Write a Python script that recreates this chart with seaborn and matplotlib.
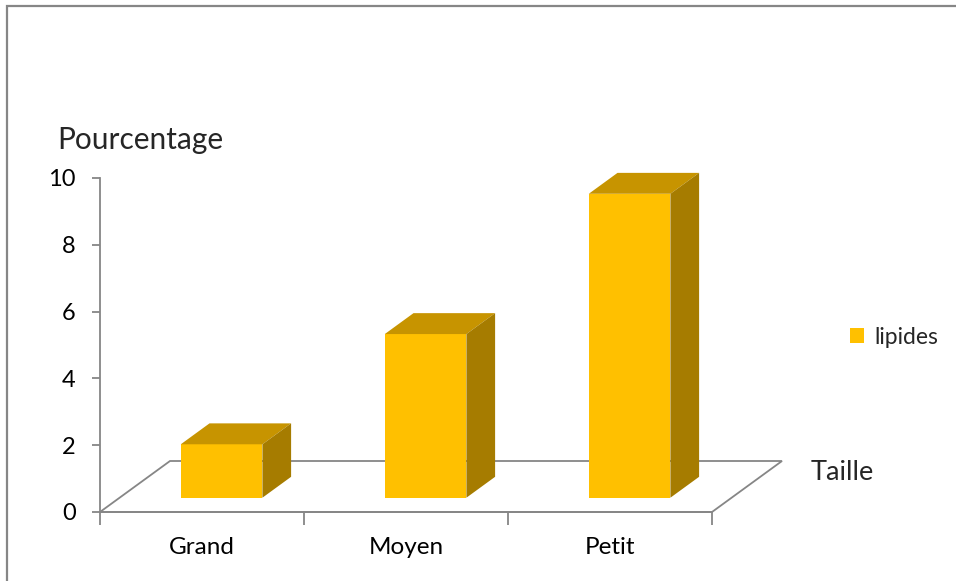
import matplotlib
matplotlib.use("Agg")
import matplotlib.pyplot as plt
from matplotlib.patches import Polygon, Rectangle
import seaborn as sns
import pandas as pd

# ---- data ----
categories = ["Grand", "Moyen", "Petit"]
values = [1.6, 4.9, 9.1]
series_name = "lipides"
yticks = [0, 2, 4, 6, 8, 10]

FRONT = "#FFC000"
TOP = "#C79400"
SIDE = "#A67C00"
GREY = "#868686"

sns.set_theme(style="white")
plt.rcParams["font.family"] = ["Lato", "DejaVu Sans"]

W, H = 956, 581
fig = plt.figure(figsize=(W / 100, H / 100), dpi=100)

# axes frame: x 100..712 px, y 512..178 px
ax = fig.add_axes([100 / W, (H - 512) / H, 612 / W, 334 / H])

df = pd.DataFrame({"Taille": categories, "Pourcentage": values,
                   "serie": [series_name] * len(categories)})
sns.barplot(data=df, x="Taille", y="Pourcentage", hue="serie",
            palette=[FRONT], saturation=1, width=0.40, ax=ax, zorder=3,
            edgecolor="none", linewidth=0)

ax.set_xlim(-0.5, len(categories) - 0.5)
ax.set_ylim(0, 10)

# depth of the floor in data units
DX = 70 / 204.0
DY = 51 / 33.4
F0, F1 = 0.28, 0.69  # bar front/back depth fractions

floor = Polygon([(-0.5, 0), (len(categories) - 0.5, 0),
                 (len(categories) - 0.5 + DX, DY), (-0.5 + DX, DY)],
                closed=True, fill=False, edgecolor=GREY, linewidth=1.3,
                clip_on=False, zorder=1)
ax.add_patch(floor)

bars = [p for p in ax.patches if isinstance(p, Rectangle)]
for p in bars:
    x0 = p.get_x()
    w = p.get_width()
    h = p.get_height()
    x1 = x0 + w
    p.set_x(x0 + F0 * DX)
    p.set_y(F0 * DY)
    p.set_clip_on(False)
    top = Polygon([(x0 + F0 * DX, h + F0 * DY), (x1 + F0 * DX, h + F0 * DY),
                   (x1 + F1 * DX, h + F1 * DY), (x0 + F1 * DX, h + F1 * DY)],
                  closed=True, facecolor=TOP, edgecolor="none",
                  clip_on=False, zorder=3)
    side = Polygon([(x1 + F0 * DX, F0 * DY), (x1 + F1 * DX, F1 * DY),
                    (x1 + F1 * DX, h + F1 * DY), (x1 + F0 * DX, h + F0 * DY)],
                   closed=True, facecolor=SIDE, edgecolor="none",
                   clip_on=False, zorder=3)
    ax.add_patch(top)
    ax.add_patch(side)

# axes styling
for s in ["top", "right"]:
    ax.spines[s].set_visible(False)
for s in ["left", "bottom"]:
    ax.spines[s].set_color(GREY)
    ax.spines[s].set_linewidth(1.3)
ax.set_yticks(yticks)
ax.set_yticklabels([str(t) for t in yticks], fontsize=17, color="black")
ax.set_xticks(range(len(categories)))
ax.set_xticklabels(categories, fontsize=17.5, color="black")
ax.tick_params(axis="y", which="major", left=True, length=6, width=1.3,
               color=GREY, pad=11.5)
ax.tick_params(axis="x", which="major", bottom=False, pad=12)
ax.set_xticks([i - 0.5 for i in range(len(categories) + 1)], minor=True)
ax.tick_params(axis="x", which="minor", bottom=True, length=9, width=1.3,
               color=GREY)
ax.set_xlabel("")
ax.set_ylabel("")
ax.grid(False)

fig.text(57 / W, 1 - 140 / H, "Pourcentage", fontsize=21.5,
         ha="left", va="center")
fig.text(811 / W, 1 - 472 / H, "Taille", fontsize=19.5,
         ha="left", va="center")

handles, labels = ax.get_legend_handles_labels()
ax.legend(handles, labels, loc="center left",
          bbox_to_anchor=(850 / W, 1 - 337 / H),
          bbox_transform=fig.transFigure, frameon=False, fontsize=16.5,
          handlelength=0.6, handleheight=0.6, handletextpad=0.45,
          borderpad=0, borderaxespad=0)

# outer frame (left and top edges visible)
fig.add_artist(Rectangle((7 / W, -0.1), 1.2, 1 - 6 / H + 0.1,
                         transform=fig.transFigure, fill=False,
                         edgecolor=GREY, linewidth=1.6))

fig.savefig("out.png", dpi=100)
